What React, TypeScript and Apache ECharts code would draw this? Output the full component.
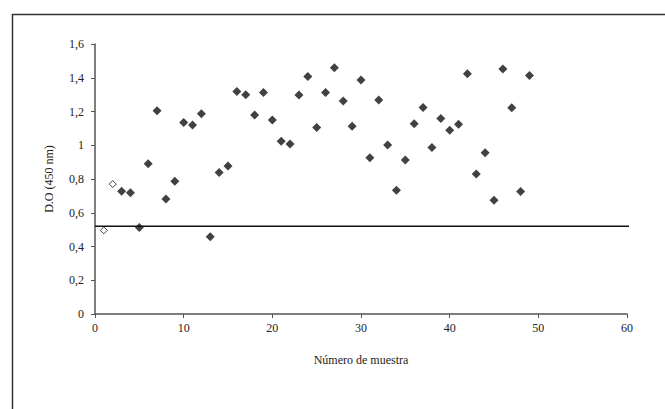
import React, { useEffect, useRef } from "react";
import * as echarts from "echarts";

const openX = [1, 2];
const openY = [0.496, 0.77];
const sampleX = [3, 4, 5, 6, 7, 8, 9, 10, 11, 12, 13, 14, 15, 16, 17, 18, 19, 20, 21, 22, 23, 24, 25, 26, 27, 28, 29, 30, 31, 32, 33, 34, 35, 36, 37, 38, 39, 40, 41, 42, 43, 44, 45, 46, 47, 48, 49];
const sampleY = [0.728, 0.718, 0.512, 0.89, 1.205, 0.682, 0.786, 1.135, 1.12, 1.186, 0.458, 0.838, 0.877, 1.319, 1.3, 1.18, 1.313, 1.15, 1.024, 1.008, 1.298, 1.408, 1.105, 1.313, 1.46, 1.262, 1.113, 1.387, 0.926, 1.268, 1.002, 0.734, 0.912, 1.127, 1.224, 0.986, 1.158, 1.089, 1.125, 1.424, 0.83, 0.956, 0.674, 1.452, 1.222, 0.726, 1.414];
const cutoff = 0.52;
const cutoffX = [0, 66];

export default function App() {
  const ref = useRef<HTMLDivElement>(null);
  useEffect(() => {
    if (!ref.current) return;
    const chart = echarts.init(ref.current, null, { renderer: "svg" });
    const font = "'Liberation Serif', 'Times New Roman', serif";
    chart.setOption({
      animation: false,
      backgroundColor: "#ffffff",
      textStyle: { fontFamily: font },
      grid: { left: 95, right: 38, top: 44, bottom: 95 },
      graphic: [
        {
          type: "rect",
          left: 10,
          top: 12,
          shape: { x: 0, y: 0, width: 720, height: 460 },
          style: { fill: "none", stroke: "#333", lineWidth: 1.5 },
          silent: true,
        },
      ],
      xAxis: {
        type: "value",
        min: 0,
        max: 60,
        interval: 10,
        name: "Número de muestra",
        nameLocation: "middle",
        nameGap: 40,
        nameTextStyle: { fontFamily: font, fontSize: 12, color: "#222" },
        axisLine: { show: true, lineStyle: { color: "#555", width: 1.5 } },
        axisTick: { show: true, inside: false, length: 4, lineStyle: { color: "#555" } },
        axisLabel: { fontFamily: font, fontSize: 12, color: "#222", margin: 8 },
        splitLine: { show: false },
      },
      yAxis: {
        type: "value",
        min: 0,
        max: 1.6,
        interval: 0.2,
        name: "D.O (450 nm)",
        nameLocation: "middle",
        nameGap: 40,
        nameRotate: 90,
        nameTextStyle: { fontFamily: font, fontSize: 12, color: "#222" },
        axisLine: { show: true, lineStyle: { color: "#555", width: 1.5 } },
        axisTick: { show: true, inside: false, length: 4, lineStyle: { color: "#555" } },
        axisLabel: {
          fontFamily: font,
          fontSize: 12,
          color: "#222",
          margin: 11,
          formatter: (v: number) => String(Math.round(v * 10) / 10).replace(".", ","),
        },
        splitLine: { show: false },
      },
      series: [
        {
          type: "line",
          data: cutoffX.map((x) => [x, cutoff]),
          symbol: "none",
          clip: false,
          silent: true,
          lineStyle: { color: "#111", width: 1.5 },
          z: 1,
        },
        {
          type: "scatter",
          data: openX.map((x, i) => [x, openY[i]]),
          symbol: "diamond",
          symbolSize: 7,
          itemStyle: { color: "#fff", borderColor: "#111", borderWidth: 1 },
          z: 3,
        },
        {
          type: "scatter",
          data: sampleX.map((x, i) => [x, sampleY[i]]),
          symbol: "diamond",
          symbolSize: 9,
          itemStyle: { color: "#111" },
          z: 3,
        },
      ],
    });
    return () => chart.dispose();
  }, []);
  return (
    <div
      ref={ref}
      style={{ position: "fixed", left: 0, top: 0, width: 665, height: 409 }}
    />
  );
}
